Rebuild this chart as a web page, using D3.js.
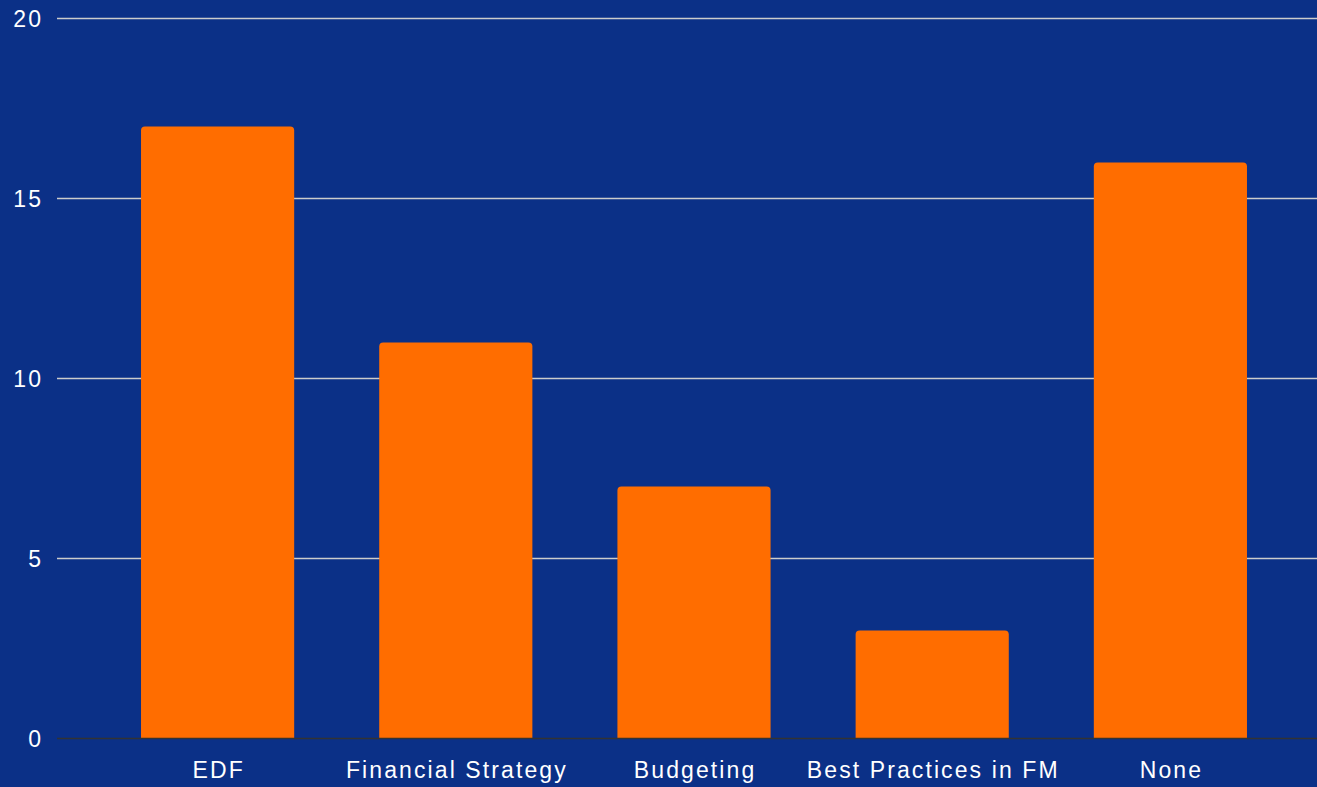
<!DOCTYPE html>
<html><head><meta charset="utf-8">
<script src="https://cdn.jsdelivr.net/npm/d3@7"></script>
<style>html,body{margin:0;padding:0;background:#0b3087;overflow:hidden}</style>
</head><body><svg id="c" width="1317" height="787"></svg>
<script>
const categories = ["EDF","Financial Strategy","Budgeting","Best Practices in FM","None"];
const values = [17, 11, 7, 3, 16];
const yTicks = [0,5,10,15,20];

const W=1317,H=787;
const svg=d3.select("#c");
svg.append("rect").attr("width",W).attr("height",H).attr("fill","#0b3087");
const gridL=57, gridR=1317;
const y=d3.scaleLinear().domain([0,20]).range([738.5,18.5]);
const x=d3.scaleBand().domain(categories).range([98.5,1289.5]).paddingInner(0.357).paddingOuter(0.1785);
const font="'Liberation Sans', Arial, Helvetica, sans-serif";
const ls=2.1, fs=23;

// grid
svg.append("g").selectAll("line").data(yTicks.filter(d=>d>0)).join("line")
 .attr("x1",gridL).attr("x2",gridR).attr("y1",d=>y(d)).attr("y2",d=>y(d))
 .attr("stroke","#cccccc").attr("stroke-width",1.3);
// y labels
svg.append("g").selectAll("text").data(yTicks).join("text")
 .attr("x",41+ls).attr("y",d=>y(d)+8.5).attr("text-anchor","end")
 .attr("letter-spacing",ls)
 .attr("fill","#ffffff").attr("font-family",font).attr("font-size",fs).text(d=>d);
// bars with rounded top
const r=4;
svg.append("g").selectAll("path").data(categories).join("path")
 .attr("fill","#ff6d00")
 .attr("d",(c,i)=>{const x0=x(c),w=x.bandwidth(),y0=y(values[i]),yb=y(0);
   return `M${x0},${yb}V${y0+r}Q${x0},${y0} ${x0+r},${y0}H${x0+w-r}Q${x0+w},${y0} ${x0+w},${y0+r}V${yb}Z`;});
// baseline
svg.append("line").attr("x1",gridL).attr("x2",gridR).attr("y1",y(0)).attr("y2",y(0))
 .attr("stroke","#333333").attr("stroke-width",1.5);
// x labels
svg.append("g").selectAll("text").data(categories).join("text")
 .attr("x",c=>x(c)+x.bandwidth()/2+ls/2).attr("y",778).attr("text-anchor","middle")
 .attr("letter-spacing",ls)
 .attr("fill","#ffffff").attr("font-family",font).attr("font-size",fs).text(c=>c);
</script></body></html>
